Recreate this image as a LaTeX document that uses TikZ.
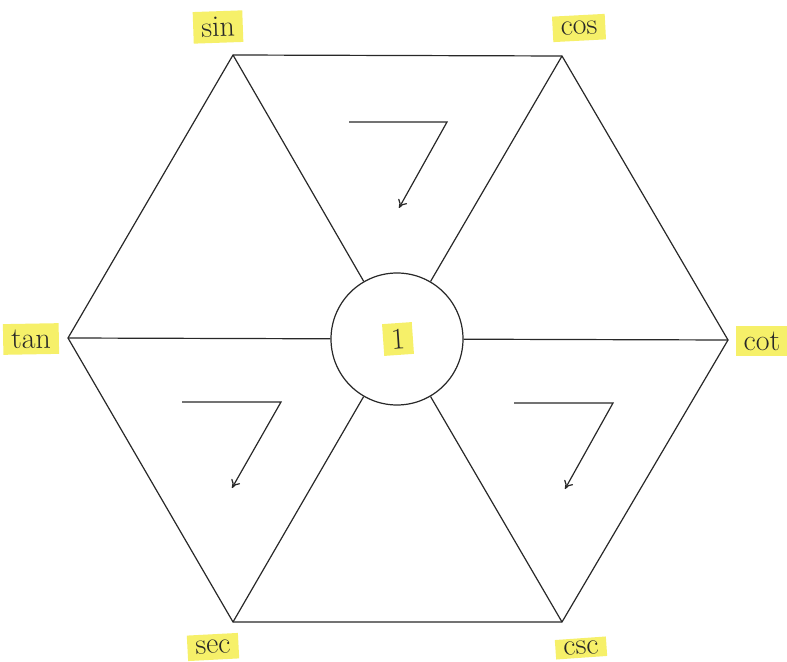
\documentclass[tikz,border=0pt]{standalone}
\usepackage{tikz}
\usetikzlibrary{arrows.meta}
\definecolor{hl}{RGB}{246,240,105}
\definecolor{ink}{RGB}{40,40,40}
\begin{document}
\begin{tikzpicture}[x=0.5pt,y=-0.5pt,
  edge/.style={draw=ink,line width=0.6pt},
  turn/.style={draw=ink,line width=0.6pt,-{To[length=4pt,width=5pt]}},
  lab/.style={fill=hl,text=ink,inner xsep=4pt,inner ysep=3pt,font=\fontsize{15}{17}\selectfont},
  hub/.style={circle,draw=ink,line width=0.6pt,minimum size=132*0.5pt,inner sep=0pt}]
\useasboundingbox (0,0) rectangle (787,662);
\fill[white] (0,0) rectangle (787,662);
% vertices
\coordinate (vsin) at (233,55);
\coordinate (vcos) at (562,56);
\coordinate (vtan) at (68,338);
\coordinate (vcot) at (728,340);
\coordinate (vsec) at (233,622);
\coordinate (vcsc) at (562,622);
\node[hub] (c) at (397,339) {};
% hexagon
\draw[edge] (vsin) -- (vcos) -- (vcot) -- (vcsc) -- (vsec) -- (vtan) -- cycle;
% spokes
\foreach \v in {vsin,vcos,vtan,vcot,vsec,vcsc} \draw[edge] (c) -- (\v);
% centre label
\node[lab,rotate=4] (one) at (398,339) {1};
% labels
\node[lab,rotate=2] (lsin) at (218,27) {sin};
\node[lab,rotate=3] (lcos) at (579,28) {cos};
\node[lab,rotate=1] (ltan) at (31,339) {tan};
\node[lab] (lcot) at (762,341) {cot};
\node[lab,rotate=3] (lsec) at (213,647) {sec};
\node[lab,rotate=4,inner ysep=1.5pt] (lcsc) at (581,648) {csc};
% rotation arrows
\coordinate (a1) at (349,122); \coordinate (b1) at (447,122); \coordinate (e1) at (399,208);
\coordinate (a2) at (182,402); \coordinate (b2) at (281,402); \coordinate (e2) at (232,488);
\coordinate (a3) at (514,403); \coordinate (b3) at (613,403); \coordinate (e3) at (565,489);
\draw[turn] (a1) -- (b1) -- (e1);
\draw[turn] (a2) -- (b2) -- (e2);
\draw[turn] (a3) -- (b3) -- (e3);
\end{tikzpicture}
\end{document}
